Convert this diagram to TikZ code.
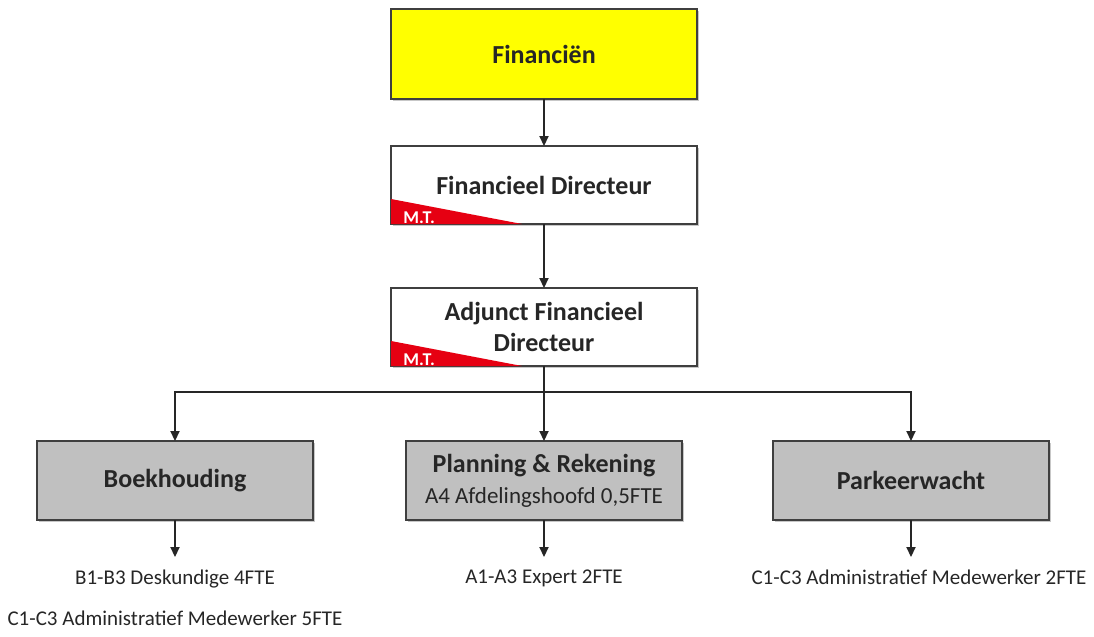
\documentclass[tikz,border=0pt]{standalone}
\usepackage{fontspec}
\setmainfont{Carlito}
\usepackage{tikz}
\usetikzlibrary{arrows.meta,positioning,shadows}
\definecolor{finyellow}{HTML}{FFFF00}
\definecolor{deptgray}{HTML}{C0C0C0}
\definecolor{boxline}{HTML}{3F3F3F}
\definecolor{mtred}{HTML}{E60012}
\definecolor{ink}{HTML}{262626}
\newcommand{\sublinefont}{\fontsize{11.5}{13.5}\selectfont\mdseries}
\tikzset{
    every picture/.style={line join=miter},
    orgbox/.style={draw=boxline,line width=0.7pt,minimum width=153pt,minimum height=39pt,
      inner sep=2pt,outer sep=0pt,text=ink,align=center,
      font=\fontsize{13}{15.5}\selectfont\bfseries,
      drop shadow={shadow xshift=0.9pt,shadow yshift=-0.9pt,fill=black,opacity=0.22}},
    topbox/.style={orgbox,fill=finyellow,minimum height=45pt},
    mgmtbox/.style={orgbox,fill=white},
    deptbox/.style={orgbox,fill=deptgray,minimum width=138pt,minimum height=39.5pt},
    stafftext/.style={inner sep=1pt,outer sep=0pt,text=ink,font=\fontsize{10.5}{12.5}\selectfont},
    mtflag/.style={fill=mtred,draw=none},
    mtlabel/.style={inner sep=0pt,text=white,font=\fontsize{9}{10}\selectfont\bfseries},
    linkarrow/.style={-{Triangle[length=5pt,width=4.6pt]},draw=ink,line width=0.6pt},
    linkline/.style={draw=ink,line width=0.6pt}
}
\begin{document}
\begin{tikzpicture}
    \useasboundingbox (0,0) rectangle (547pt,-318.5pt);
    % management chain
    \node[topbox] (fin) at (272pt,-27pt) {Financiën};
    \node[mgmtbox,below=23.5pt of fin] (fd) {Financieel Directeur};
    \node[mgmtbox,below=32pt of fd] (afd) {Adjunct Financieel\\Directeur};
    \fill[mtflag] (fd.south west) -- ++(0,12.5pt) -- ++(65.5pt,-12.5pt) -- cycle;
    \fill[mtflag] (afd.south west) -- ++(0,12.5pt) -- ++(65.5pt,-12.5pt) -- cycle;
    \node[mtlabel,anchor=base west] (fdmt) at ([xshift=6pt,yshift=0.4pt]fd.south west) {M.T.};
    \node[mtlabel,anchor=base west] (afdmt) at ([xshift=6pt,yshift=0.4pt]afd.south west) {M.T.};
    \draw[linkarrow] (fin) -- (fd);
    \draw[linkarrow] (fd) -- (afd);
    % departments
    \node[deptbox] (plan) at (272pt,-240.25pt) {Planning \& Rekening\\{\sublinefont A4 Afdelingshoofd 0,5FTE}};
    \node[deptbox,left=46.5pt of plan] (boek) {Boekhouding};
    \node[deptbox,right=45.5pt of plan] (park) {Parkeerwacht};
    \coordinate[below=13pt of afd] (bus);
    \draw[linkline] (afd) -- (bus);
    \draw[linkarrow] (bus) -| (boek.north);
    \draw[linkarrow] (bus) -- (plan);
    \draw[linkarrow] (bus) -| (park.north);
    % staff below each department
    \coordinate[below=18.5pt of boek] (boektip);
    \coordinate[below=18.5pt of plan] (plantip);
    \coordinate[below=18.5pt of park] (parktip);
    \draw[linkarrow] (boek) -- (boektip);
    \draw[linkarrow] (plan) -- (plantip);
    \draw[linkarrow] (park) -- (parktip);
    \node[stafftext,below=24pt of boek] (boekstaff) {B1-B3 Deskundige 4FTE};
    \node[stafftext,below=9.5pt of boekstaff] (boekadmin) {C1-C3 Administratief Medewerker 5FTE};
    \node[stafftext,below=24pt of plan] (planstaff) {A1-A3 Expert 2FTE};
    \node[stafftext,below=24pt of park,xshift=4pt] (parkstaff) {C1-C3 Administratief Medewerker 2FTE};
\end{tikzpicture}
\end{document}
